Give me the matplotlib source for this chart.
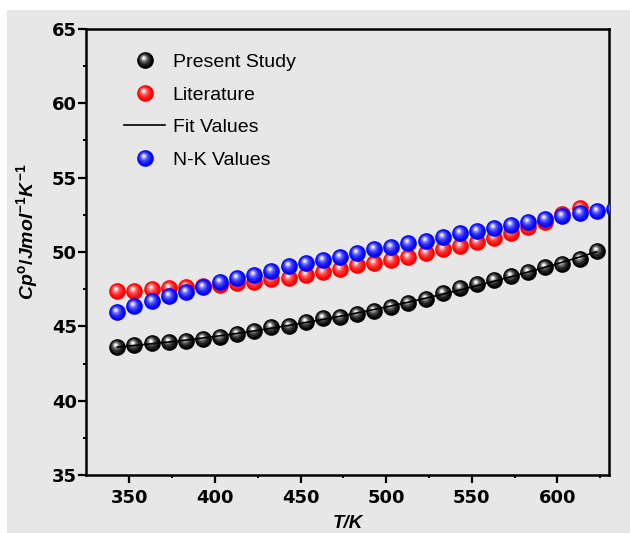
import numpy as np
import matplotlib
matplotlib.use("Agg")
import matplotlib.pyplot as plt
from matplotlib.markers import MarkerStyle
from matplotlib.transforms import Affine2D
from matplotlib.legend_handler import HandlerTuple
from matplotlib.patches import Rectangle
import matplotlib.colors as mcolors

# Data
T_present = [343, 353, 363, 373, 383, 393, 403, 413, 423, 433, 443, 453, 463, 473,
             483, 493, 503, 513, 523, 533, 543, 553, 563, 573, 583, 593, 603, 613, 623]
cp_present = [43.63, 43.75, 43.86, 43.95, 44.02, 44.17, 44.31, 44.51, 44.71, 44.94,
              45.05, 45.32, 45.55, 45.65, 45.83, 46.00, 46.29, 46.60, 46.84, 47.23,
              47.56, 47.83, 48.12, 48.39, 48.68, 48.98, 49.20, 49.52, 50.09]

T_lit = [343, 353, 363, 373, 383, 393, 403, 413, 423, 433, 443, 453, 463, 473,
         483, 493, 503, 513, 523, 533, 543, 553, 563, 573, 583, 593, 603, 613]
cp_lit = [47.38, 47.38, 47.50, 47.60, 47.67, 47.72, 47.80, 47.90, 48.01, 48.17,
          48.28, 48.46, 48.64, 48.84, 49.10, 49.28, 49.46, 49.68, 49.95, 50.18,
          50.42, 50.69, 50.96, 51.29, 51.68, 52.02, 52.55, 52.95]

T_nk = [343, 353, 363, 373, 383, 393, 403, 413, 423, 433, 443, 453, 463, 473,
        483, 493, 503, 513, 523, 533, 543, 553, 563, 573, 583, 593, 603, 613, 623, 633]
cp_nk = [45.99, 46.37, 46.71, 47.05, 47.33, 47.65, 47.95, 48.24, 48.46, 48.73,
         49.06, 49.25, 49.47, 49.69, 49.92, 50.17, 50.36, 50.59, 50.77, 51.04,
         51.27, 51.42, 51.60, 51.82, 52.00, 52.25, 52.45, 52.61, 52.78, 52.92]

# quadratic fit of the present study data
coef = np.polyfit(T_present, cp_present, 2)
cp_fit = np.polyval(coef, T_present)

plt.rcParams['mathtext.fontset'] = 'custom'
plt.rcParams['mathtext.it'] = 'Liberation Sans:italic:bold'
plt.rcParams['mathtext.rm'] = 'Liberation Sans:bold'
plt.rcParams['mathtext.bf'] = 'Liberation Sans:bold'

bg = '#e7e7e7'
fig = plt.figure(figsize=(6.3, 5.33), dpi=100, facecolor='white')
fig.patches.append(Rectangle((7 / 630, 0), 1, 1 - 9.5 / 533, transform=fig.transFigure,
                             facecolor=bg, edgecolor='none', zorder=-10))
ax = fig.add_axes([0.1373, 0.1088, 0.8289, 0.8368])
ax.set_facecolor(bg)

# layers for a shaded sphere marker: (scale, dx, dy, white mix)
layers = [(1.0, 0.0, 0.0, 0.0),
          (0.78, -0.04, 0.05, 0.12),
          (0.58, -0.07, 0.09, 0.30),
          (0.40, -0.09, 0.12, 0.55),
          (0.24, -0.10, 0.14, 0.85),
          (0.12, -0.10, 0.15, 1.0)]


def sphere(x, y, base, z, ms=12, light='white'):
    handles = []
    c0 = np.array(mcolors.to_rgb(base))
    c1 = np.array(mcolors.to_rgb(light))
    for i, (s, dx, dy, m) in enumerate(layers):
        mk = MarkerStyle('o', transform=Affine2D().scale(s).translate(dx, dy))
        col = c0 * (1 - m) + c1 * m
        ln, = ax.plot(x, y, linestyle='none', marker=mk, markersize=ms,
                      markerfacecolor=col, markeredgecolor='none', zorder=z + i * 0.01)
        handles.append(ln)
    return tuple(handles)


h_lit = sphere(T_lit, cp_lit, '#ff0000', 3, light='#fff0f0')
h_nk = sphere(T_nk, cp_nk, '#0000ff', 4, light='#f0f0ff')
h_present = sphere(T_present, cp_present, '#000000', 5, light='#ffffff')
fit_line, = ax.plot(T_present, cp_fit, color='black', linewidth=1.2, zorder=6)

ax.set_xlim(325, 630)
ax.set_ylim(35, 65)
ax.set_xticks([350, 400, 450, 500, 550, 600])
ax.set_xticks(np.arange(375, 630, 50), minor=True)
ax.set_yticks([35, 40, 45, 50, 55, 60, 65])
ax.set_yticks(np.arange(37.5, 65, 5), minor=True)

for sp in ax.spines.values():
    sp.set_linewidth(1.8)
ax.tick_params(which='major', direction='out', length=6, width=1.6, pad=1)
ax.tick_params(which='minor', direction='out', length=2.5, width=1.4)
ax.tick_params(axis='x', which='major', pad=4)
for lab in ax.get_xticklabels() + ax.get_yticklabels():
    lab.set_fontfamily('DejaVu Sans')
    lab.set_fontweight('bold')
    lab.set_fontsize(13)

ax.set_xlabel('T/K', fontfamily='Liberation Sans', fontweight='bold', fontstyle='italic',
              fontsize=13.5, labelpad=6)
ax.set_ylabel(r'$Cp^{\mathrm{o}}/Jmol^{-1}K^{-1}$', fontsize=14)
ax.yaxis.set_label_coords(-0.09, 0.545)

ax.legend([h_present, h_lit, fit_line, h_nk],
          ['Present Study', 'Literature', 'Fit Values', 'N-K Values'],
          handler_map={tuple: HandlerTuple(ndivide=1, pad=0)},
          loc='upper left', bbox_to_anchor=(0.072, 0.945), borderaxespad=0,
          borderpad=0, frameon=False, handlelength=2.1, handletextpad=0.4,
          labelspacing=0.77, prop={'family': 'Liberation Sans', 'size': 14})

fig.savefig('out.png', dpi=100, facecolor='white')
